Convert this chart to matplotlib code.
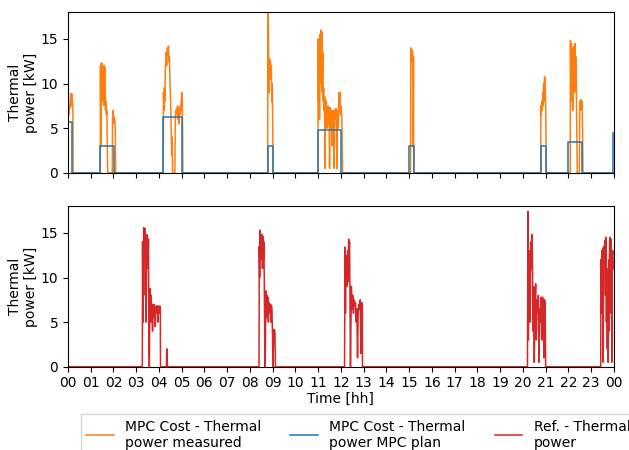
import matplotlib.pyplot as plt

# hours of the day, kW
hours = list(range(25))
hour_labels = ["%02d" % (h % 24) for h in hours]

# MPC Cost - measured thermal power (orange)
meas_t = [0.0, 0.02, 0.04, 0.06, 0.08, 0.10, 0.12, 0.14, 0.16, 0.18, 0.20, 0.22, 0.23,
          1.42, 1.43, 1.45, 1.47, 1.49, 1.51, 1.53, 1.55, 1.57, 1.59, 1.61, 1.63, 1.65, 1.67, 1.69, 1.71, 1.73, 1.75,
          1.95, 1.96, 1.98, 2.00, 2.02, 2.04, 2.06, 2.08, 2.10,
          4.19, 4.20, 4.22, 4.24, 4.26, 4.28, 4.30, 4.32, 4.34, 4.36, 4.38, 4.40, 4.42, 4.44, 4.46, 4.48,
          4.50, 4.52, 4.54, 4.56, 4.58, 4.60, 4.70, 4.72, 4.74, 4.76, 4.78, 4.80, 4.82, 4.84, 4.86, 4.88,
          4.90, 4.92, 4.94, 4.96, 4.98, 5.00, 5.02, 5.04, 5.05,
          8.78, 8.79, 8.81, 8.82, 8.84, 8.86, 8.88, 8.90, 8.92, 8.94, 8.96, 8.98, 9.00, 9.02,
          10.99, 11.00, 11.02, 11.04, 11.06, 11.08, 11.10, 11.12, 11.14, 11.16, 11.18, 11.20, 11.22, 11.24,
          11.26, 11.28, 11.30, 11.32, 11.34, 11.36, 11.38, 11.40, 11.42, 11.44, 11.46, 11.48, 11.50, 11.52,
          11.54, 11.56, 11.58, 11.60, 11.62, 11.64, 11.66, 11.68, 11.70, 11.72, 11.74, 11.76, 11.78, 11.80,
          11.82, 11.84, 11.86, 11.88, 11.90, 11.92, 11.94, 11.96, 11.98, 12.00, 12.02, 12.04, 12.06, 12.07,
          15.06, 15.07, 15.09, 15.11, 15.13, 15.15, 15.17, 15.19, 15.20,
          20.78, 20.79, 20.81, 20.83, 20.85, 20.87, 20.89, 20.91, 20.93, 20.95, 20.97, 20.99, 21.01, 21.03,
          22.08, 22.09, 22.11, 22.13, 22.15, 22.17, 22.19, 22.21, 22.23, 22.25, 22.27, 22.29, 22.31, 22.33,
          22.35, 22.37, 22.39, 22.48, 22.50, 22.52, 22.54, 22.56, 22.58, 22.60, 22.62, 22.64, 24.0]
meas_kw = [5.5, 7.0, 6.5, 7.5, 7.2, 8.0, 8.9, 8.5, 7.5, 8.8, 7.8, 7.0, 0.0,
           0.0, 12.0, 3.0, 12.3, 10.0, 12.2, 8.0, 11.5, 7.5, 12.0, 9.5, 11.8, 7.0, 8.0, 6.5, 7.0, 3.0, 0.0,
           0.0, 6.0, 7.0, 6.5, 5.5, 6.2, 5.8, 5.0, 0.0,
           0.0, 9.0, 7.0, 9.5, 8.0, 11.5, 12.5, 13.5, 12.0, 13.8, 14.0, 13.2, 14.2, 12.5, 13.0, 11.0,
           9.0, 7.5, 5.0, 2.0, 4.0, 0.0, 0.0, 6.0, 7.0, 6.5, 7.2, 6.8, 7.5, 6.0, 7.2, 5.5,
           7.0, 7.4, 6.5, 7.5, 8.0, 9.0, 8.5, 5.0, 0.0,
           0.0, 18.0, 16.0, 12.5, 9.0, 12.8, 11.0, 12.5, 10.5, 12.0, 8.0, 10.0, 6.0, 0.0,
           0.0, 15.0, 8.0, 15.0, 6.0, 15.5, 10.0, 16.0, 12.0, 15.8, 9.0, 13.5, 8.0, 9.5,
           7.0, 8.5, 0.5, 8.2, 6.0, 8.0, 5.0, 7.0, 6.0, 7.5, 5.5, 7.2, 0.5, 7.3,
           5.0, 7.0, 6.0, 6.5, 3.0, 6.0, 7.0, 6.2, 0.5, 7.0, 6.5, 6.0, 7.2, 5.5,
           0.5, 6.8, 7.0, 5.0, 7.5, 9.0, 8.0, 9.0, 6.5, 7.5, 7.0, 6.0, 3.0, 0.0,
           0.0, 14.0, 13.0, 13.8, 12.5, 13.5, 3.0, 13.0, 0.0,
           0.0, 7.5, 6.5, 8.0, 7.0, 9.0, 7.5, 10.0, 8.0, 10.8, 10.5, 9.0, 6.0, 0.0,
           0.0, 14.8, 8.0, 14.5, 12.0, 13.5, 7.0, 14.0, 12.5, 14.2, 9.0, 14.5, 11.0, 13.0,
           9.0, 4.0, 0.0, 0.0, 8.0, 7.5, 8.2, 7.0, 7.8, 8.0, 5.0, 0.0, 0.0]

# MPC Cost - planned thermal power (blue, step)
plan_t = [0.0, 0.2, 1.41, 2.02, 4.19, 5.0, 8.8, 9.0, 11.0, 11.99,
          15.0, 15.2, 20.78, 21.0, 22.0, 22.58, 23.98, 24.0]
plan_kw = [5.7, 0.0, 3.0, 0.0, 6.3, 0.0, 3.0, 0.0, 4.8, 0.0,
           3.0, 0.0, 3.0, 0.0, 3.4, 0.0, 4.5, 4.5]

# Reference - thermal power (red)
ref_t = [0.0, 3.27, 3.28, 3.30, 3.33, 3.36, 3.38, 3.40, 3.42, 3.44, 3.46, 3.48, 3.50, 3.52, 3.54, 3.56, 3.58,
         3.60, 3.62, 3.64, 3.66, 3.68, 3.70, 3.72, 3.74, 3.76, 3.78, 3.80, 3.82, 3.84, 3.86, 3.88, 3.90,
         3.92, 3.94, 3.96, 3.98, 4.00, 4.02, 4.04, 4.06, 4.07, 4.33, 4.34, 4.36, 4.37,
         8.40, 8.41, 8.43, 8.45, 8.47, 8.49, 8.51, 8.53, 8.55, 8.57, 8.59, 8.61, 8.63, 8.65, 8.67, 8.69,
         8.71, 8.73, 8.75, 8.77, 8.79, 8.81, 8.83, 8.85, 8.87, 8.89, 8.91, 8.93, 8.95, 8.97, 8.99, 9.01,
         9.05, 9.07, 9.10, 9.12,
         12.16, 12.18, 12.20, 12.22, 12.24, 12.26, 12.28, 12.30, 12.32, 12.34, 12.36, 12.38, 12.40, 12.42,
         12.44, 12.46, 12.49, 12.52, 12.55, 12.58, 12.61, 12.64, 12.67, 12.70, 12.73, 12.76, 12.79, 12.82,
         12.85, 12.88, 12.91, 12.94, 12.95,
         20.20, 20.22, 20.24, 20.26, 20.28, 20.30, 20.32, 20.34, 20.36, 20.38, 20.40, 20.42, 20.44, 20.47,
         20.50, 20.53, 20.56, 20.59, 20.62, 20.65, 20.68, 20.71, 20.74, 20.77, 20.80, 20.83, 20.86, 20.89,
         20.92, 20.95, 20.98, 21.0,
         23.42, 23.43, 23.45, 23.47, 23.49, 23.51, 23.53, 23.55, 23.57, 23.59, 23.61, 23.63, 23.65, 23.67,
         23.69, 23.71, 23.73, 23.75, 23.77, 23.79, 23.81, 23.83, 23.85, 23.87, 23.89, 23.91, 23.93, 23.95,
         23.97, 24.0]
ref_kw = [0.0, 0.0, 14.0, 5.0, 15.6, 12.0, 15.5, 8.0, 11.5, 5.0, 13.5, 14.8, 14.0, 11.0, 14.3, 2.0, 0.0,
          7.0, 8.8, 5.0, 8.0, 6.0, 7.0, 4.0, 6.8, 6.0, 7.0, 5.5, 6.8, 4.5, 6.5, 6.0, 6.8,
          6.2, 6.8, 5.0, 6.8, 6.5, 6.0, 6.8, 6.5, 0.0, 0.0, 2.0, 2.0, 0.0,
          0.0, 13.5, 10.0, 15.3, 12.0, 14.5, 13.8, 14.8, 11.0, 14.6, 12.0, 14.0, 10.0, 3.0, 0.0, 5.0,
          8.5, 5.5, 8.0, 6.5, 7.8, 5.0, 7.2, 6.0, 7.0, 6.5, 7.0, 5.0, 6.8, 6.0, 4.0, 0.0,
          4.2, 4.0, 4.0, 0.0,
          0.0, 13.4, 6.0, 12.5, 10.0, 9.0, 11.5, 13.0, 9.5, 14.3, 13.0, 14.0, 7.0, 0.0,
          5.0, 9.0, 6.5, 8.0, 6.0, 7.5, 6.8, 7.2, 5.0, 6.5, 1.0, 6.0, 7.0, 6.5,
          7.5, 1.5, 7.2, 7.0, 0.0,
          0.0, 17.4, 3.0, 12.0, 10.5, 13.0, 5.0, 12.5, 14.0, 11.0, 14.8, 12.0, 4.0, 9.0,
          0.5, 7.0, 9.3, 3.0, 7.5, 6.0, 8.0, 0.5, 6.5, 5.0, 7.8, 3.0, 7.8, 7.5,
          1.0, 7.5, 7.0, 0.0,
          0.0, 12.0, 6.0, 13.0, 11.0, 13.3, 0.5, 12.5, 13.5, 13.0, 14.2, 8.0, 14.5, 5.0,
          11.0, 2.0, 10.0, 0.5, 12.0, 4.0, 14.0, 14.5, 6.0, 14.3, 11.0, 0.5, 12.5, 13.0,
          11.0, 11.0]

fig = plt.figure(figsize=(6.29, 4.5), dpi=100)
ax1 = fig.add_axes([0.108, 0.616, 0.868, 0.357])
ax2 = fig.add_axes([0.108, 0.185, 0.868, 0.357])

l1, = ax1.plot(meas_t, meas_kw, color="tab:orange", lw=1.1,
               label="MPC Cost - Thermal\npower measured")
l2, = ax1.plot(plan_t, plan_kw, color="tab:blue", lw=1.1, drawstyle="steps-post",
               label="MPC Cost - Thermal\npower MPC plan")
l3, = ax2.plot(ref_t, ref_kw, color="tab:red", lw=1.1,
               label="Ref. - Thermal\npower")

for ax in (ax1, ax2):
    ax.set_xlim(0, 24)
    ax.set_ylim(0, 18)
    ax.set_xticks(hours)
    ax.set_yticks([0, 5, 10, 15])
    ax.set_ylabel("Thermal\npower [kW]", fontsize=10, labelpad=2)
    ax.tick_params(labelsize=10)

ax1.set_xticklabels([])
ax2.set_xticklabels(hour_labels)
ax2.set_xlabel("Time [hh]", fontsize=10, labelpad=1)

fig.legend(handles=[l1, l2, l3], loc="upper left", bbox_to_anchor=(0.128, 0.08),
           ncol=3, fontsize=10, columnspacing=2.1, handlelength=2.0,
           frameon=True, fancybox=False, borderaxespad=0)

fig.savefig("out.png", dpi=100)
